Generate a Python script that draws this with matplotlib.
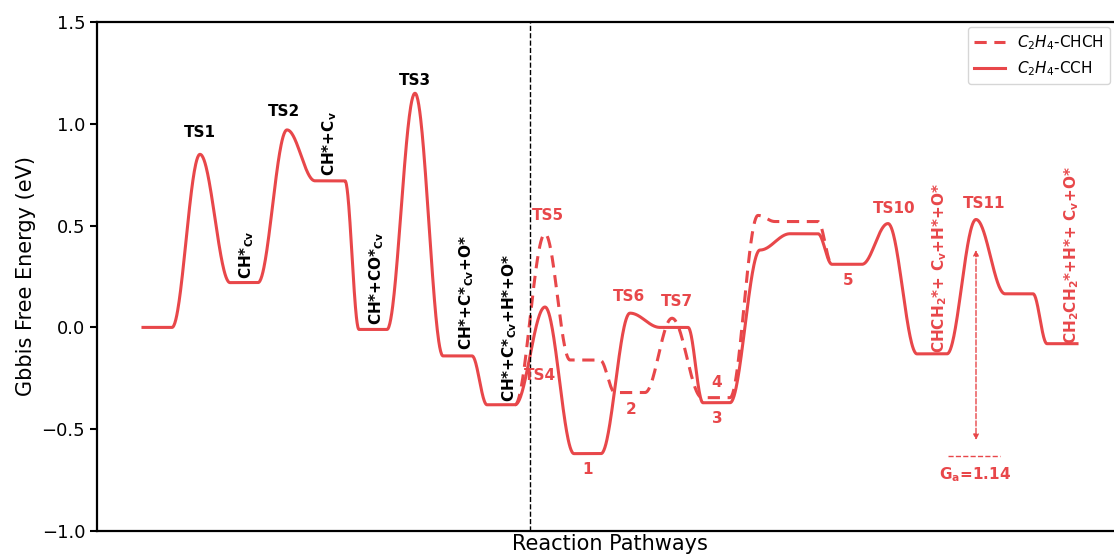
import numpy as np
import matplotlib
matplotlib.use('Agg')
import matplotlib.pyplot as plt

# Reaktionsprofil C2H4-CCH (durchgezogen): (x_start, x_end, G [eV]); Peaks haben x_start == x_end
cch_x0 = [4.6, 10.3, 13.3, 19.0, 21.8, 26.2, 31.8, 34.6, 39.0, 44.8, 47.7, 53.3, 56.3, 60.6, 66.3, 69.3, 73.5, 79.1, 82.0, 87.9, 90.8, 95.0]
cch_x1 = [7.5, 10.3, 16.1, 19.0, 24.8, 29.0, 31.8, 37.5, 41.8, 44.8, 50.4, 53.3, 59.1, 63.3, 66.3, 72.1, 76.5, 79.1, 85.0, 87.9, 93.6, 98.0]
cch_g = [0.0, 0.85, 0.22, 0.97, 0.72, -0.01, 1.15, -0.14, -0.38, 0.10, -0.62, 0.07, 0.0, -0.37, 0.38, 0.46, 0.31, 0.51, -0.13, 0.53, 0.165, -0.08]

# Reaktionsprofil C2H4-CHCH (gestrichelt)
chch_x0 = [41.8, 44.8, 47.3, 51.8, 57.5, 60.5, 66.1, 67.8, 73.5]
chch_x1 = [41.8, 44.8, 50.3, 54.8, 57.5, 63.3, 66.1, 72.1, 73.5]
chch_g = [-0.38, 0.46, -0.16, -0.32, 0.045, -0.345, 0.55, 0.52, 0.31]

# Aktivierungsenergie TS11
ga_value = 1.14
ga_base = -0.63
ga_x = 87.9

red = '#e8474a'


def profil(x0, x1, g, n=60):
    # Plateaus verbinden mit Kosinus-Uebergang (glatte Kurve)
    xs, ys = [], []
    for i in range(len(g)):
        xs += [x0[i], x1[i]]
        ys += [g[i], g[i]]
        if i < len(g) - 1:
            t = np.linspace(0, 1, n)[1:-1]
            xs += list(x1[i] + (x0[i + 1] - x1[i]) * t)
            ys += list(g[i] + (g[i + 1] - g[i]) * (1 - np.cos(np.pi * t)) / 2)
    return np.array(xs), np.array(ys)


fig = plt.figure(figsize=(11.14, 5.58), dpi=100)
ax = fig.add_axes([97 / 1114, 27 / 558, 1026 / 1114, 509 / 558])

xs, ys = profil(chch_x0, chch_x1, chch_g)
ax.plot(xs, ys, color=red, lw=2.2, ls=(0, (4, 2.5)), label='$C_2H_4$-CHCH')
xs, ys = profil(cch_x0, cch_x1, cch_g)
ax.plot(xs, ys, color=red, lw=2.2, label='$C_2H_4$-CCH')

ax.axvline(43.3, color='black', ls='--', lw=1.0)

# G_a Pfeil
ax.annotate('', xy=(ga_x, -0.553), xytext=(ga_x, 0.38),
            arrowprops=dict(arrowstyle='<|-|>', color=red, ls='--', lw=1.0,
                            mutation_scale=8, shrinkA=0, shrinkB=0))
ax.plot([85.1, 90.3], [ga_base, ga_base], color=red, ls='--', lw=1.0)
ax.text(87.8, -0.725, r'G$_\mathbf{a}$=%.2f' % ga_value, color=red, fontsize=11,
        fontweight='bold', ha='center', va='center')

# Beschriftungen
fs = 11
for txt, x, y in [('TS1', 10.3, 0.955), ('TS2', 18.7, 1.06), ('TS3', 31.8, 1.215)]:
    ax.text(x, y, txt, ha='center', va='center', fontsize=fs, fontweight='bold')
for txt, x, y in [(r'CH*$_\mathbf{Cv}$', 15.0, 0.355),
                  (r'CH*+C$_\mathbf{v}$', 23.3, 0.905),
                  (r'CH*+CO*$_\mathbf{Cv}$', 28.0, 0.243),
                  (r'CH*+C*$_\mathbf{Cv}$+O*', 37.0, 0.17),
                  (r'CH*+C*$_\mathbf{Cv}$+H*+O*', 41.3, 0.0)]:
    ax.text(x, y, txt, ha='center', va='center', fontsize=fs, fontweight='bold', rotation=90)

for txt, x, y in [('TS5', 45.1, 0.55), ('TS4', 44.3, -0.235), ('TS6', 53.2, 0.15),
                  ('TS7', 58.0, 0.125), ('1', 49.1, -0.70), ('2', 53.4, -0.405),
                  ('4', 62.0, -0.27), ('3', 62.0, -0.445), ('5', 75.1, 0.23),
                  ('TS10', 79.7, 0.585), ('TS11', 88.7, 0.61)]:
    ax.text(x, y, txt, ha='center', va='center', fontsize=fs, fontweight='bold', color=red)
for txt, x, y in [(r'CHCH$_\mathbf{2}$*+ C$_\mathbf{v}$+H*+O*', 84.3, 0.29),
                  (r'CH$_\mathbf{2}$CH$_\mathbf{2}$*+H*+ C$_\mathbf{v}$+O*', 97.5, 0.355)]:
    ax.text(x, y, txt, ha='center', va='center', fontsize=fs, fontweight='bold',
            color=red, rotation=90)

ax.set_xlim(0, 102.6)
ax.set_ylim(-1.0, 1.5)
ax.set_yticks([-1.0, -0.5, 0.0, 0.5, 1.0, 1.5])
ax.set_xticks([])
ax.tick_params(axis='y', labelsize=13, width=1.5, length=5)
for s in ax.spines.values():
    s.set_linewidth(1.6)
ax.set_ylabel('Gbbis Free Energy (eV)', fontsize=15)
ax.set_xlabel('Reaction Pathways', fontsize=15, labelpad=2)

ax.legend(loc='upper right', bbox_to_anchor=(1110 / 1114, 1 - 27 / 558),
          bbox_transform=fig.transFigure, borderaxespad=0, fontsize=11)

fig.savefig('out.png', dpi=100)
